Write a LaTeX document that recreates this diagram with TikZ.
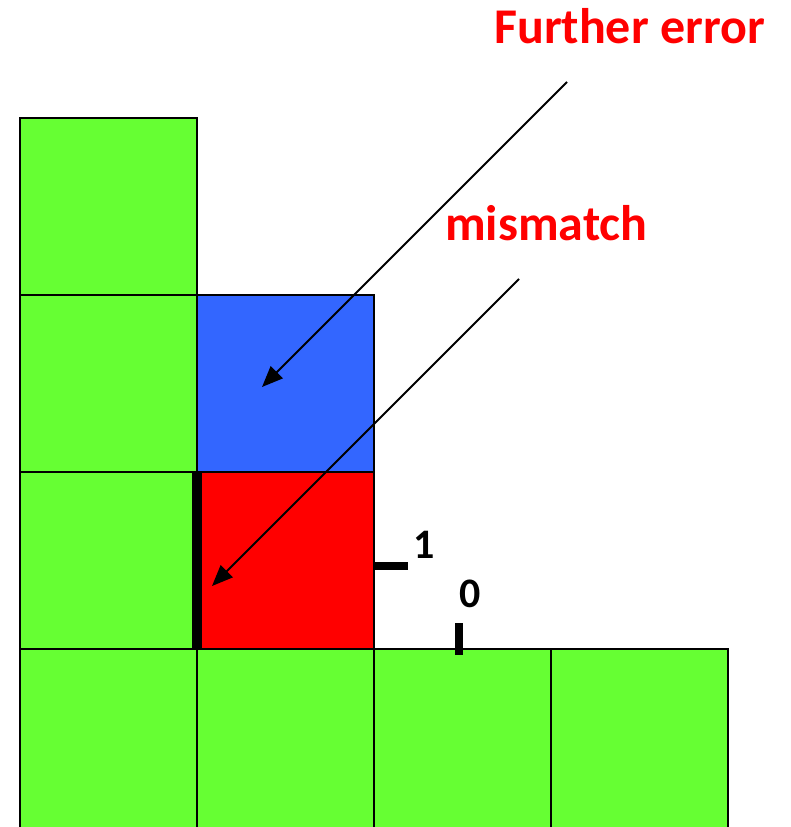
\documentclass[tikz,border=0pt]{standalone}
\usepackage{fontspec}
\setmainfont{Carlito}
\usepackage{xcolor}
\usetikzlibrary{arrows.meta}
\definecolor{cellgreen}{HTML}{66FF33}
\definecolor{cellblue}{HTML}{3366FF}
\definecolor{cellred}{HTML}{FF0000}
\tikzset{
  % style for one square of the grid
  cell/.style={draw=black, line width=2pt},
  % style for the red remarks
  remark/.style={text=cellred, font=\fontsize{50}{60}\selectfont\bfseries,
    anchor=base west, inner sep=0pt},
  % style for the small numbers
  level/.style={text=black, font=\fontsize{42}{50}\selectfont\bfseries,
    anchor=base west, inner sep=0pt},
  tickmark/.style={black, line width=8pt},
  pointer/.style={-{Triangle[length=21pt,width=17pt]}, line width=1.8pt},
}

\begin{document}
\begin{tikzpicture}[x=1pt,y=-1pt]
\useasboundingbox (0,0) rectangle (790,827);
% left column
\filldraw[cell, fill=cellgreen] (19.5,118) rectangle (197,295);
\filldraw[cell, fill=cellgreen] (19.5,295) rectangle (197,472);
\filldraw[cell, fill=cellgreen] (19.5,472) rectangle (197,649);
% bottom row
\filldraw[cell, fill=cellgreen] (19.5,649) rectangle (197,830);
\filldraw[cell, fill=cellgreen] (197,649) rectangle (374,830);
\filldraw[cell, fill=cellgreen] (374,649) rectangle (551,830);
\filldraw[cell, fill=cellgreen] (551,649) rectangle (728,830);
% the two cells in question
\filldraw[cell, fill=cellblue] (197,295) rectangle (374,472);
\filldraw[cell, fill=cellred] (197,472) rectangle (374,649);
\draw[black, line width=10pt] (197,472) -- (197,649);
% level marks
\draw[tickmark] (375,566) -- (408,566);
\draw[tickmark] (458.5,623) -- (458.5,655);
\node[level] (one) at (413,558) {1};
\node[level] (zero) at (459,607) {0};
% remarks and their arrows
\node[remark] (further) at (494,43) {Further error};
\node[remark] (mismatch) at (445,240) {mismatch};
\coordinate (further tail) at (567,82);
\coordinate (further tip) at (262,387);
\coordinate (mismatch tail) at (519,279);
\coordinate (mismatch tip) at (212,586);
\draw[pointer] (further tail) -- (further tip);
\draw[pointer] (mismatch tail) -- (mismatch tip);
\end{tikzpicture}
\end{document}
